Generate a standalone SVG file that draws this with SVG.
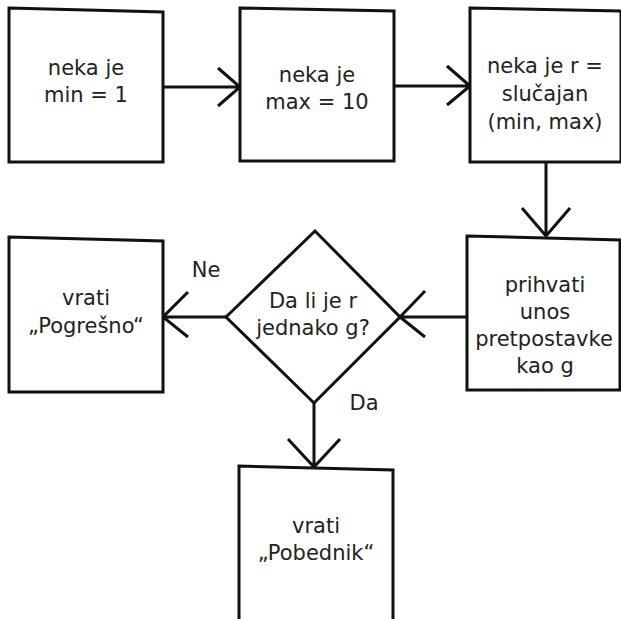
<svg xmlns="http://www.w3.org/2000/svg" width="621" height="619" viewBox="0 0 621 619">
  <style>
    .shape { fill: #fff; stroke: #111; stroke-width: 3; stroke-linejoin: miter; }
    .line { fill: none; stroke: #111; stroke-width: 3; stroke-linecap: butt; }
    .lbl { font-family: "DejaVu Sans", "Open Sans", sans-serif; font-size: 21px; fill: #222; text-anchor: middle; }
  </style>
  <rect width="621" height="619" fill="#fff"/>

  <g id="connectors">
    <!-- min -> max -->
    <path class="line" d="M163 87 H240 M218 68 L240 87 L218 106"/>
    <!-- max -> random -->
    <path class="line" d="M394 86 H470 M447 66 L470 86 L447 105"/>
    <!-- random -> input -->
    <path class="line" d="M546 162 V236 M522 208 L546 236 L570 208"/>
    <!-- input -> decision -->
    <path class="line" d="M467 317 H400 M425 291 L400 317 L425 337"/>
    <!-- decision -> wrong -->
    <path class="line" d="M226 317 H163 M188 292 L163 317 L188 337"/>
    <!-- decision -> winner -->
    <path class="line" d="M314 403 V467 M288 439 L314 467 L340 439"/>
    <text class="lbl" x="206" y="277">Ne</text>
    <text class="lbl" x="364" y="410">Da</text>
  </g>

  <g id="set-min">
    <path class="shape" d="M9 8 L163 12 L163 162 L9 162 Z"/>
    <text class="lbl" x="86" y="75">neka je</text>
    <text class="lbl" x="86" y="102">min = 1</text>
  </g>

  <g id="set-max">
    <path class="shape" d="M240 8 L394 11 L394 161 L240 161 Z"/>
    <text class="lbl" x="317" y="82">neka je</text>
    <text class="lbl" x="317" y="109">max = 10</text>
  </g>

  <g id="set-random">
    <path class="shape" d="M470 8 L621 11 L621 162 L470 162 Z"/>
    <text class="lbl" x="545" y="73">neka je r =</text>
    <text class="lbl" x="545" y="101">slučajan</text>
    <text class="lbl" x="545" y="129">(min, max)</text>
  </g>

  <g id="read-guess">
    <path class="shape" d="M467 236 L620 240 L620 390 L467 390 Z"/>
    <text class="lbl" x="545" y="292">prihvati</text>
    <text class="lbl" x="545" y="319">unos</text>
    <text class="lbl" x="544" y="346">pretpostavke</text>
    <text class="lbl" x="545" y="373">kao g</text>
  </g>

  <g id="compare">
    <path class="shape" d="M315 231 L400 317 L314 403 L226 317 Z"/>
    <text class="lbl" x="313" y="308">Da li je r</text>
    <text class="lbl" x="313" y="335">jednako g?</text>
  </g>

  <g id="return-wrong">
    <path class="shape" d="M9 237 L163 241 L163 392 L9 392 Z"/>
    <text class="lbl" x="86" y="305">vrati</text>
    <text class="lbl" x="86" y="333">„Pogrešno“</text>
  </g>

  <g id="return-winner">
    <path class="shape" d="M239 466 L393 470 L393 625 L239 625 Z"/>
    <text class="lbl" x="316" y="533">vrati</text>
    <text class="lbl" x="316" y="560">„Pobednik“</text>
  </g>
</svg>
